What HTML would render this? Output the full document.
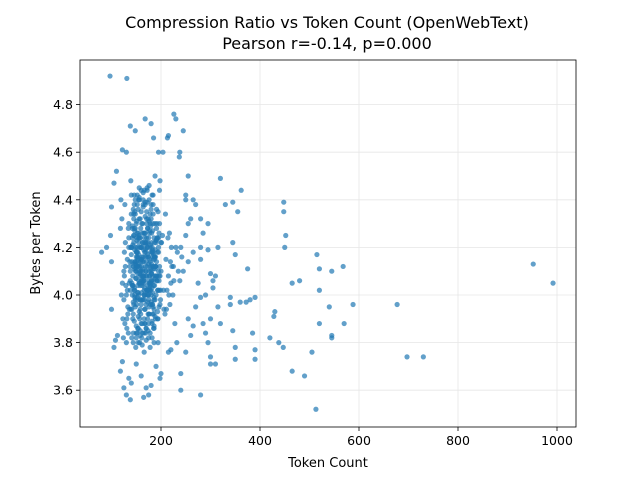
<!DOCTYPE html>
<html><head><meta charset="utf-8"><style>
body{margin:0;background:#fff;}
svg text{font-family:"DejaVu Sans","Liberation Sans",sans-serif;fill:#000;}
</style></head><body>
<svg id="chart" width="640" height="480" xmlns="http://www.w3.org/2000/svg">
<text x="327" y="28" font-size="16" text-anchor="middle">Compression Ratio vs Token Count (OpenWebText)</text>
<text x="327" y="49" font-size="16" text-anchor="middle">Pearson r=-0.14, p=0.000</text>
<g id="grid"></g><g id="pts"></g><g id="axes"></g>
<text x="328" y="467" font-size="13" text-anchor="middle">Token Count</text>
<text transform="translate(40,243) rotate(-90)" font-size="13" text-anchor="middle">Bytes per Token</text>
</svg>
<script>
const xTicks=[200,400,600,800,1000];
const yTicks=[3.6,3.8,4.0,4.2,4.4,4.6,4.8];
const sparseX=[97,131,952,992,697,730,677,588,513,490,465,505,545,545,570,520,540,520,545,568,515,520,480,465,448,448,452,450,430,428,438,447,420,390,390,385,390,380,372,360,350,350,345,340,340,345,350,362,345,355,375,330,320,315,310,305,305,315,320,300,300,310,300,295,285,280,290,270,280,290,275,280,295,280,285,295,280,270,300,260,265,250,255,245,226,230,238,237,240,240,250,260,255,265,265,250,255,215,213,204,195,185,180,168,148,138,122,130,110,105,100,98,90,80,100,100,105,108,112,122,118,125,130,138,135,140,160,165,170,180,175,198,200,215,220,190,150];
const sparseY=[4.92,4.91,4.13,4.05,3.74,3.74,3.96,3.96,3.52,3.66,3.68,3.76,3.82,3.83,3.88,3.88,3.95,4.02,4.10,4.12,4.17,4.11,4.06,4.05,4.39,4.35,4.25,4.20,3.93,3.91,3.80,3.78,3.82,3.73,3.77,3.84,3.99,3.98,3.97,3.97,3.78,3.73,3.85,3.96,3.99,4.22,4.17,4.44,4.39,4.35,4.11,4.38,4.49,4.20,4.08,4.03,4.06,3.95,3.88,3.90,3.71,3.71,3.74,3.80,3.88,3.58,3.84,3.95,3.99,4.00,4.05,4.15,4.19,4.20,4.26,4.30,4.32,4.38,4.09,4.32,4.40,4.42,4.50,4.69,4.76,4.74,4.60,4.58,3.60,3.67,3.76,3.83,3.90,3.87,4.18,4.25,4.30,4.67,4.66,4.60,4.60,4.66,4.72,4.74,4.69,4.71,4.61,4.60,4.52,4.47,4.37,4.25,4.20,4.18,4.14,3.94,3.78,3.81,3.83,3.72,3.68,3.61,3.58,3.56,3.65,3.63,3.66,3.57,3.61,3.62,3.58,3.65,3.67,3.76,3.77,3.70,3.71];
const coreX=[140,150,160,170,180,190,145,155,165,175,185,195,135,142,152,162,172,182,192,200,138,148,158,168,178,188,198,205,132,144,154,164,174,184,194,210,136,146,156,166,176,186,196,215,128,141,151,161,171,181,191,201,133,143,153,163,173,183,193,208,130,147,157,167,177,187,197,220,125,139,149,159,169,179,189,199,134,145,155,165,175,185,195,212,127,140,150,160,170,180,190,225,122,137,152,162,172,182,192,203,131,142,153,163,173,183,193,218,126,144,154,164,174,184,194,230,120,138,148,158,168,178,188,206,135,146,156,166,176,186,196,222,129,143,151,161,171,181,191,235,124,141,157,167,177,187,197,214,133,149,159,169,179,189,199,228,118,139,150,160,170,180,190,209,136,147,155,165,175,185,195,240,128,144,152,162,172,182,192,216,131,142,158,168,178,188,198,232,125,145,153,163,173,183,193,245,137,148,156,166,176,186,196,219,121,140,154,164,174,184,194,238,134,146,157,167,177,187,197,224,130,143,151,161,171,181,191,250,127,141,149,159,169,179,189,211,139,150,160,170,180,190,200,226,123,144,155,165,175,185,195,242,132,147,158,168,178,188,198,217,119,138,152,162,172,182,192,233,135,145,153,163,173,183,193,255,126,142,156,166,176,186,196,221];
const coreY=[4.20,4.18,4.15,4.10,4.05,4.12,4.25,4.22,4.08,4.02,4.15,4.20,4.30,4.00,3.98,4.05,4.12,4.18,4.24,4.10,4.10,4.28,4.32,4.26,4.20,4.08,3.96,4.02,4.15,3.92,4.12,4.16,4.22,4.30,4.35,4.15,4.05,4.38,4.05,4.00,3.95,3.98,4.06,4.08,4.22,4.14,4.24,4.30,4.35,4.26,4.14,4.22,3.95,4.08,4.18,4.22,4.28,4.12,4.02,3.92,4.00,4.02,3.90,3.94,4.08,4.22,4.30,4.05,4.10,4.20,4.10,4.14,4.18,4.02,3.90,3.98,4.28,3.96,4.00,4.06,3.88,3.92,4.18,4.02,3.88,4.34,4.30,4.20,4.14,4.10,4.00,4.12,4.05,4.12,4.20,4.26,4.02,3.96,4.08,4.25,3.86,4.24,3.86,3.84,4.20,4.16,4.24,3.96,4.18,3.84,4.36,4.40,4.32,4.38,3.90,4.20,4.00,4.06,4.14,4.24,4.00,4.04,3.98,3.94,4.20,4.28,4.40,3.98,3.92,3.86,3.95,4.12,4.04,4.04,3.96,4.08,4.30,4.06,4.36,4.10,3.82,3.82,3.80,3.88,4.02,4.16,4.44,4.24,3.92,4.20,4.10,4.16,4.18,4.12,4.02,3.88,4.28,3.94,4.16,4.06,3.96,4.00,4.22,4.34,3.94,4.35,4.40,4.26,3.82,3.86,4.10,4.20,4.12,3.80,3.84,4.04,4.20,4.42,4.06,4.00,3.90,4.28,3.98,3.88,4.34,4.30,4.08,3.80,3.98,4.32,4.16,4.10,4.04,3.92,3.90,4.10,4.14,3.98,4.45,4.44,4.10,4.24,4.08,4.14,4.32,4.42,3.86,4.38,4.02,4.18,3.80,4.06,3.84,4.42,4.12,4.22,4.26,4.16,4.12,4.00,3.80,3.90,4.14,3.82,4.02,4.22,4.28,4.40,4.38,4.20,3.78,3.92,3.84,4.12,4.16,3.94,4.48,3.84,3.88,3.86,4.32,4.08,4.22,4.06,3.90,4.12,4.24,4.06,3.98,4.04,4.24,4.16,4.02,4.00,3.94,4.38,4.30,4.50,4.48,4.26,4.40,4.02,4.16,3.98,4.44,3.88,4.06,4.18,4.24,4.34,4.12,4.08,3.90,3.96,4.18,4.14,4.08,4.04,4.10,3.76,4.46,3.94,4.26,4.20,4.12,4.04,3.96,3.86,3.82,3.78,4.08,4.10,4.16];
const denseX=[143,147,151,155,159,163,167,171,175,179,183,187,145,149,153,157,161,165,169,173,177,181,185,189,141,146,150,154,158,162,166,170,174,178,182,186,144,148,152,156,160,164,168,172,176,180,184,188,142,147,151,155,159,163,167,171,175,179,183,190,146,150,154,158,162,166,170,174,178,182,186,193,140,145,149,153,157,161,165,169,173,177,181,185,144,148,152,156,160,164,168,172,176,180,184,192,143,147,151,155,159,163,167,171,175,179,183,188,145,149,153,157,161,165,169,173,177,181,185,196,141,146,150,154,158,162,166,170,174,178,182,187,148,152,156,160,164,168,172,176,180,184,150,154,158,162,166,170,174,178,182,186,146,151,157,163,169,175,181,187,149,155,161,167,173,179,185,191,147,153,159,165,171,177,183,189,152,158,164,170,176,182,188,194];
const denseY=[4.21,4.19,4.23,4.17,4.20,4.22,4.18,4.24,4.16,4.21,4.19,4.15,4.13,4.11,4.15,4.09,4.12,4.14,4.10,4.16,4.08,4.13,4.11,4.07,4.05,4.03,4.07,4.01,4.04,4.06,4.02,4.08,4.00,4.05,4.03,3.99,3.97,3.95,3.99,3.93,3.96,3.98,3.94,4.00,3.92,3.97,3.95,3.91,4.29,4.27,4.31,4.25,4.28,4.30,4.26,4.32,4.24,4.29,4.27,4.23,3.89,3.87,3.91,3.85,3.88,3.90,3.86,3.92,3.84,3.89,3.87,3.93,4.17,4.25,4.13,4.09,4.24,4.01,4.07,4.19,4.28,4.03,4.06,4.12,4.36,4.34,4.38,4.32,4.35,4.37,4.33,4.39,4.31,4.36,4.34,4.30,4.04,4.14,4.18,4.06,3.98,4.11,4.24,4.02,4.13,3.96,4.08,4.19,4.22,4.10,4.01,4.20,4.15,4.05,4.12,3.97,4.27,4.09,4.17,4.02,3.94,4.02,4.12,4.26,4.08,4.16,4.00,4.22,4.06,4.14,4.20,4.04,4.40,4.42,4.41,4.44,4.43,4.39,4.45,4.40,4.38,4.42,3.82,3.80,3.83,3.79,3.84,3.81,3.85,3.78,3.82,3.80,4.11,4.18,4.05,4.14,4.21,4.00,4.09,4.16,4.07,4.13,4.20,4.03,4.17,4.11,4.06,4.23,3.99,4.04,4.10,4.19,4.08,4.15,4.01,4.12,4.26,4.15,4.08,4.22,4.05,4.18,4.11,4.02];
const X0=80,X1=576,Y0=60,Y1=427;
const xs=v=>62+v*0.495;
const ys=v=>295-(v-4)*238;
const ns='http://www.w3.org/2000/svg';
const mk=(t,a,p)=>{const e=document.createElementNS(ns,t);for(const k in a)e.setAttribute(k,a[k]);p.appendChild(e);return e;};
const grid=document.getElementById('grid'),axes=document.getElementById('axes'),pts=document.getElementById('pts');
xTicks.forEach(t=>{
  const g=mk('line',{x1:xs(t),x2:xs(t),y1:Y0,y2:Y1,stroke:'#e6e6e6','stroke-width':0.8},grid);
  
  
  mk('line',{x1:xs(t),x2:xs(t),y1:Y1,y2:Y1+4,stroke:'#000','stroke-width':0.8},axes);
  const l=mk('text',{x:xs(t),y:Y1+18,'font-size':12.5,'text-anchor':'middle'},axes);
  l.textContent=t;
  
  
});
yTicks.forEach(t=>{
  const g=mk('line',{x1:X0,x2:X1,y1:ys(t),y2:ys(t),stroke:'#e6e6e6','stroke-width':0.8},grid);
  
  
  mk('line',{x1:X0-4,x2:X0,y1:ys(t),y2:ys(t),stroke:'#000','stroke-width':0.8},axes);
  const l=mk('text',{x:X0-7,y:ys(t)+4.5,'font-size':12.5,'text-anchor':'end'},axes);
  l.textContent=t.toFixed(1);
  
  
});
const fr=mk('rect',{x:X0,y:Y0,width:X1-X0,height:Y1-Y0,fill:'none',stroke:'#000','stroke-width':0.8},axes);


function plot(X,Y){X.forEach((v,i)=>{
  const c=mk('circle',{cx:xs(v),cy:ys(Y[i]),r:2.6,fill:'#1f77b4','fill-opacity':0.7},pts);
  
  
});}
plot(sparseX,sparseY);plot(coreX,coreY);plot(denseX,denseY);
</script>
</body></html>
